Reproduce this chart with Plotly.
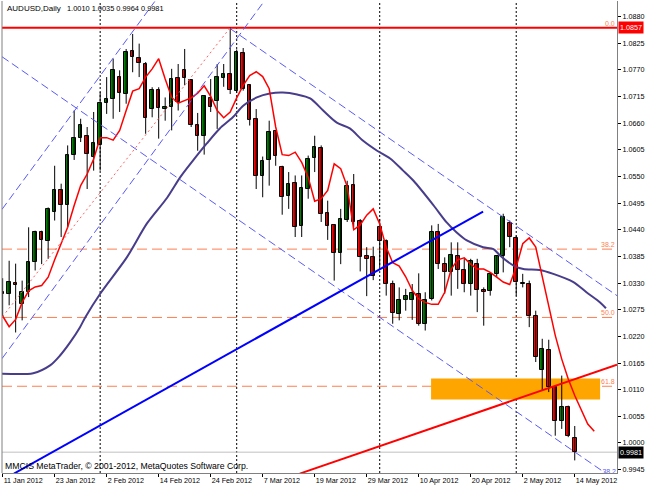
import plotly.graph_objects as go

# ---------------- data ----------------
dates = (["2012-01-%02d" % d for d in [11, 12, 13, 16, 17, 18, 19, 20, 23, 24, 25, 26, 27, 30, 31]] +
         ["2012-02-%02d" % d for d in [1, 2, 3, 6, 7, 8, 9, 10, 13, 14, 15, 16, 17, 20, 21, 22, 23, 24, 27, 28, 29]] +
         ["2012-03-%02d" % d for d in [1, 2, 5, 6, 7, 8, 9, 12, 13, 14, 15, 16, 19, 20, 21, 22, 23, 26, 27, 28, 29, 30]] +
         ["2012-04-%02d" % d for d in [2, 3, 4, 5, 6, 9, 10, 11, 12, 13, 16, 17, 18, 19, 20, 23, 24, 25, 26, 27, 30]] +
         ["2012-05-%02d" % d for d in [1, 2, 3, 4, 7, 8, 9, 10, 11, 14]])

open_ = [1.0311, 1.0308, 1.0330, 1.0287, 1.0311, 1.0373, 1.0435, 1.0416, 1.0476, 1.0522,
         1.0492, 1.0595, 1.0630, 1.0634, 1.0590, 1.0615, 1.0702, 1.0710, 1.0756, 1.0720,
         1.0808, 1.0795, 1.0782, 1.0689, 1.0729, 1.0689, 1.0694, 1.0753, 1.0770, 1.0750,
         1.0656, 1.0633, 1.0712, 1.0705, 1.0753, 1.0762, 1.0727, 1.0804, 1.0738, 1.0669,
         1.0550, 1.0583, 1.0643, 1.0570, 1.0509, 1.0537, 1.0447, 1.0524, 1.0588, 1.0609,
         1.0474, 1.0449, 1.0392, 1.0461, 1.0533, 1.0458, 1.0385, 1.0383, 1.0446, 1.0417,
         1.0327, 1.0266, 1.0295, 1.0294, 1.0308, 1.0246, 1.0297, 1.0435, 1.0369, 1.0352,
         1.0385, 1.0356, 1.0327, 1.0369, 1.0316, 1.0313, 1.0348, 1.0385, 1.0453, 1.0423,
         1.0330, 1.0328, 1.0261, 1.0151, 1.0192, 1.0115, 1.0046, 1.0075, 1.0010]
high = [1.0340, 1.0376, 1.0370, 1.0335, 1.0445, 1.0438, 1.0438, 1.0486, 1.0572, 1.0535,
        1.0614, 1.0686, 1.0669, 1.0652, 1.0683, 1.0724, 1.0755, 1.0793, 1.0769, 1.0813,
        1.0844, 1.0824, 1.0786, 1.0734, 1.0734, 1.0713, 1.0772, 1.0782, 1.0813, 1.0751,
        1.0681, 1.0717, 1.0751, 1.0782, 1.0782, 1.0857, 1.0812, 1.0815, 1.0740, 1.0689,
        1.0591, 1.0665, 1.0645, 1.0572, 1.0559, 1.0552, 1.0552, 1.0593, 1.0634, 1.0614,
        1.0500, 1.0450, 1.0483, 1.0541, 1.0555, 1.0462, 1.0404, 1.0405, 1.0462, 1.0420,
        1.0335, 1.0321, 1.0318, 1.0328, 1.0350, 1.0311, 1.0449, 1.0452, 1.0383, 1.0414,
        1.0414, 1.0380, 1.0380, 1.0380, 1.0321, 1.0352, 1.0387, 1.0473, 1.0459, 1.0428,
        1.0349, 1.0335, 1.0273, 1.0215, 1.0213, 1.0118, 1.0139, 1.0077, 1.0035]
low = [1.0262, 1.0284, 1.0228, 1.0253, 1.0301, 1.0356, 1.0369, 1.0380, 1.0459, 1.0425,
       1.0445, 1.0584, 1.0621, 1.0524, 1.0562, 1.0562, 1.0679, 1.0669, 1.0683, 1.0700,
       1.0765, 1.0755, 1.0638, 1.0672, 1.0628, 1.0665, 1.0645, 1.0686, 1.0738, 1.0652,
       1.0603, 1.0595, 1.0683, 1.0648, 1.0735, 1.0720, 1.0722, 1.0727, 1.0655, 1.0524,
       1.0507, 1.0531, 1.0572, 1.0471, 1.0483, 1.0425, 1.0425, 1.0504, 1.0559, 1.0456,
       1.0419, 1.0335, 1.0369, 1.0456, 1.0445, 1.0354, 1.0303, 1.0336, 1.0363, 1.0304,
       1.0246, 1.0253, 1.0273, 1.0254, 1.0242, 1.0232, 1.0294, 1.0359, 1.0308, 1.0304,
       1.0318, 1.0311, 1.0304, 1.0270, 1.0242, 1.0304, 1.0342, 1.0352, 1.0404, 1.0304,
       1.0321, 1.0239, 1.0167, 1.0108, 1.0105, 1.0015, 1.0029, 1.0012, 0.9964]
close = [1.0308, 1.0332, 1.0326, 1.0311, 1.0374, 1.0435, 1.0418, 1.0483, 1.0521, 1.0491,
         1.0595, 1.0630, 1.0656, 1.0597, 1.0619, 1.0701, 1.0710, 1.0769, 1.0722, 1.0806,
         1.0796, 1.0784, 1.0671, 1.0729, 1.0691, 1.0694, 1.0751, 1.0703, 1.0753, 1.0657,
         1.0634, 1.0715, 1.0694, 1.0756, 1.0762, 1.0729, 1.0806, 1.0731, 1.0667, 1.0550,
         1.0581, 1.0641, 1.0593, 1.0508, 1.0535, 1.0445, 1.0526, 1.0586, 1.0610, 1.0473,
         1.0447, 1.0392, 1.0462, 1.0531, 1.0456, 1.0383, 1.0380, 1.0345, 1.0416, 1.0328,
         1.0268, 1.0295, 1.0304, 1.0310, 1.0246, 1.0294, 1.0436, 1.0369, 1.0352, 1.0387,
         1.0356, 1.0327, 1.0375, 1.0316, 1.0311, 1.0349, 1.0385, 1.0466, 1.0426, 1.0332,
         1.0328, 1.0261, 1.0178, 1.0194, 1.0116, 1.0046, 1.0075, 1.0015, 0.9981]

# fast red moving average (drawn shifted, runs 3 bars past the last candle)
red_ma = [1.0262, 1.0240, 1.0255, 1.0290, 1.0314, 1.0322, 1.0325, 1.0342, 1.0378, 1.0411,
          1.0445, 1.0490, 1.0531, 1.0555, 1.0586, 1.0630, 1.0630, 1.0625, 1.0645, 1.0686,
          1.0726, 1.0731, 1.0755, 1.0772, 1.0793, 1.0751, 1.0713, 1.0701, 1.0707, 1.0712,
          1.0722, 1.0737, 1.0715, 1.0686, 1.0671, 1.0683, 1.0712, 1.0738, 1.0758, 1.0766,
          1.0756, 1.0731, 1.0652, 1.0595, 1.0593, 1.0600, 1.0579, 1.0548, 1.0499, 1.0504,
          1.0521, 1.0576, 1.0566, 1.0529, 1.0440, 1.0450, 1.0470, 1.0483, 1.0452, 1.0404,
          1.0372, 1.0365, 1.0343, 1.0315, 1.0297, 1.0290, 1.0286, 1.0286, 1.0311, 1.0359,
          1.0378, 1.0382, 1.0369, 1.0359, 1.0359, 1.0352, 1.0342, 1.0332, 1.0327, 1.0363,
          1.0411, 1.0423, 1.0404, 1.0342, 1.0280, 1.0222, 1.0173, 1.0132, 1.0098, 1.0067,
          1.0039, 1.0024]

# slow (dark slate blue) moving average, read at these bar positions
navy_x = [-0.1, 4.7, 7.3, 8.8, 10.4, 11.9, 12.7, 15.0, 19.1, 22.2, 25.3, 27.3, 29.3, 31.4,
          33.4, 35.4, 37.0, 39.1, 41.1, 43.1, 45.3, 47.3, 49.3, 51.4, 53.4, 55.4, 57.6,
          59.6, 61.6, 63.2, 66.3, 68.3, 69.8, 71.4, 73.9, 75.5, 76.5, 78.6, 80.1, 82.6,
          84.7, 87.8, 89.8, 91.9, 92.8]
navy_y = [1.0143, 1.0144, 1.0160, 1.0180, 1.0208, 1.0239, 1.0259, 1.0308, 1.0383, 1.0453,
          1.0506, 1.0548, 1.0583, 1.0618, 1.0649, 1.0672, 1.0696, 1.0713, 1.0721, 1.0723,
          1.0719, 1.0711, 1.0686, 1.0661, 1.0649, 1.0624, 1.0603, 1.0587, 1.0562, 1.0541,
          1.0490, 1.0455, 1.0435, 1.0418, 1.0404, 1.0400, 1.0387, 1.0366, 1.0359, 1.0357,
          1.0349, 1.0332, 1.0311, 1.0290, 1.0278]

x_tick_pos = [0, 8, 16, 24, 32, 40, 48, 56, 64, 72, 80, 88]
x_tick_labels = ["11 Jan 2012", "23 Jan 2012", "2 Feb 2012", "14 Feb 2012", "24 Feb 2012",
                 "7 Mar 2012", "19 Mar 2012", "29 Mar 2012", "10 Apr 2012", "20 Apr 2012",
                 "2 May 2012", "14 May 2012"]
y_ticks = [1.0880, 1.0825, 1.0770, 1.0715, 1.0660, 1.0605, 1.0550, 1.0495, 1.0440,
           1.0385, 1.0330, 1.0275, 1.0220, 1.0165, 1.0110, 1.0055, 1.0000, 0.9945]

month_starts = ["2012-02-01", "2012-03-01", "2012-04-02", "2012-05-01"]

fib_labels = ["0.0", "38.2", "50.0", "61.8"]
fib_prices = [1.0857, 1.0400, 1.0259, 1.0117]
high_line = 1.0857
bid_price = 0.9981

# trend / channel lines: (bar, price) anchor pairs
blue_trend = ([1.74, 73.9], [0.99368, 1.04775])
red_trend = ([45.7, 94.5], [0.99368, 1.01617])
fib_diag = ([0.0, 35.0], [1.0261, 1.0857])
rise_upper = ([-0.1, 23.4], [1.0482, 1.0911])
rise_lower = ([-0.1, 40.2], [1.0174, 1.0911])
fall_lower = ([-0.1, 92.8], [1.0797, 0.9937])
fall_upper = ([35.0, 94.5], [1.0855, 1.0304])
zone_x = [65.9, 91.9]
zone_y = [1.00895, 1.01328]

header_name = "AUDUSD,Daily"
header_vals = "1.0010 1.0035 0.9964 0.9981"
copyright_txt = "MMCIS MetaTrader, \u00a9 2001-2012, MetaQuotes Software Corp."

# ---------------- figure ----------------
FONT = "Liberation Sans, Arial, sans-serif"
n = len(close)
xs = list(range(n))

fig = go.Figure()

# wicks
wx, wy = [], []
for i in xs:
    wx += [i, i, None]
    wy += [low[i], high[i], None]
fig.add_trace(go.Scatter(x=wx, y=wy, mode="lines", line=dict(color="black", width=1),
                         hoverinfo="skip", showlegend=False))

# bodies
for up, col in [(True, "#008000"), (False, "#FF0000")]:
    bx, bb, bh = [], [], []
    for i in xs:
        if (close[i] >= open_[i]) == up:
            bx.append(i)
            bb.append(min(open_[i], close[i]))
            bh.append(max(abs(close[i] - open_[i]), 0.00005))
    fig.add_trace(go.Bar(x=bx, y=bh, base=bb, width=0.55, marker=dict(color=col, line=dict(color="black", width=1)),
                         showlegend=False, hoverinfo="skip"))

# moving averages
fig.add_trace(go.Scatter(x=navy_x, y=navy_y, mode="lines", line=dict(color="#483D8B", width=2, shape="spline", smoothing=0.8),
                         showlegend=False, hoverinfo="skip"))
fig.add_trace(go.Scatter(x=list(range(len(red_ma))), y=red_ma, mode="lines", line=dict(color="#FF0000", width=1.5),
                         showlegend=False, hoverinfo="skip"))

# channels / trend lines
for seg in [rise_upper, rise_lower, fall_lower, fall_upper]:
    fig.add_trace(go.Scatter(x=seg[0], y=seg[1], mode="lines", line=dict(color="#5A5AF5", width=1, dash="8px,4px"),
                             showlegend=False, hoverinfo="skip"))
fig.add_trace(go.Scatter(x=fib_diag[0], y=fib_diag[1], mode="lines", line=dict(color="#FF6060", width=1, dash="2px,3px"),
                         showlegend=False, hoverinfo="skip"))
fig.add_trace(go.Scatter(x=blue_trend[0], y=blue_trend[1], mode="lines", line=dict(color="#0000FF", width=2),
                         showlegend=False, hoverinfo="skip"))
fig.add_trace(go.Scatter(x=red_trend[0], y=red_trend[1], mode="lines", line=dict(color="#FF0000", width=2),
                         showlegend=False, hoverinfo="skip"))
# partly hidden channel label at bottom right
fig.add_trace(go.Scatter(x=[93.3], y=[0.9939], mode="text", text=["38.2"], cliponaxis=True,
                         textfont=dict(color="#5A5AF5", size=7, family=FONT), showlegend=False, hoverinfo="skip"))

shapes = []
shapes.append(dict(type="rect", xref="x", yref="y", x0=zone_x[0], x1=zone_x[1], y0=zone_y[0], y1=zone_y[1],
                   fillcolor="#FFA500", line=dict(width=0), layer="below"))
for d in month_starts:
    k = dates.index(d)
    shapes.append(dict(type="line", xref="x", yref="paper", x0=k, x1=k, y0=0, y1=1,
                       line=dict(color="black", width=1, dash="2px,2px"), layer="below"))
for lab, p in zip(fib_labels[1:], fib_prices[1:]):
    shapes.append(dict(type="line", xref="paper", yref="y", x0=0, x1=1, y0=p, y1=p,
                       line=dict(color="#FF7F50", width=1, dash="10px,5px"), layer="below"))
shapes.append(dict(type="line", xref="paper", yref="y", x0=0, x1=1, y0=high_line, y1=high_line,
                   line=dict(color="#FF0000", width=2), layer="below"))
shapes.append(dict(type="line", xref="paper", yref="y", x0=0, x1=1, y0=bid_price, y1=bid_price,
                   line=dict(color="#C0C0C0", width=1), layer="below"))
shapes.append(dict(type="line", xref="paper", yref="paper", x0=0, x1=0, y0=0, y1=1,
                   line=dict(color="#808080", width=1)))

ann = []
for lab, p in zip(fib_labels, fib_prices):
    ann.append(dict(xref="paper", yref="y", x=0.9984, y=p, xanchor="right", yanchor="bottom", text=lab,
                    showarrow=False, font=dict(family=FONT, size=7, color="#FF7F50"), borderpad=0))
ann.append(dict(xref="paper", yref="y", x=1.0016, y=high_line, xanchor="left", yanchor="middle",
                text="%.4f" % high_line, showarrow=False, bgcolor="#FF0000",
                font=dict(family=FONT, size=7.2, color="white"), borderpad=1))
ann.append(dict(xref="paper", yref="y", x=1.0016, y=bid_price, xanchor="left", yanchor="middle",
                text="%.4f" % bid_price, showarrow=False, bgcolor="#000000",
                font=dict(family=FONT, size=7.2, color="white"), borderpad=1))
ann.append(dict(xref="paper", yref="paper", x=0.005, y=0.985, xanchor="left", yanchor="middle",
                text=header_name, showarrow=False, font=dict(family=FONT, size=8, color="black")))
ann.append(dict(xref="paper", yref="paper", x=0.102, y=0.985, xanchor="left", yanchor="middle",
                text=header_vals, showarrow=False, font=dict(family=FONT, size=7.4, color="black")))
ann.append(dict(xref="paper", yref="paper", x=0.0016, y=0.0148, xanchor="left", yanchor="middle",
                text=copyright_txt, showarrow=False, font=dict(family=FONT, size=8.7, color="black")))

fig.update_layout(
    width=650, height=488,
    margin=dict(l=2, r=33, t=1, b=15),
    paper_bgcolor="white", plot_bgcolor="white",
    barmode="overlay", bargap=0,
    showlegend=False,
    shapes=shapes, annotations=ann,
    font=dict(family=FONT, size=7.2, color="black"),
    xaxis=dict(range=[-0.1, 94.5], showgrid=False, zeroline=False, showline=True, linecolor="#808080",
               linewidth=1, ticks="outside", ticklen=3, tickcolor="black", tickvals=x_tick_pos,
               ticktext=x_tick_labels, ticklabelposition="outside right",
               tickfont=dict(family=FONT, size=7.2, color="black")),
    yaxis=dict(range=[0.99380, 1.09120], side="right", showgrid=False, zeroline=False, showline=True,
               linecolor="#808080", linewidth=1, ticks="outside", ticklen=3, tickcolor="black",
               tickvals=y_ticks, ticktext=["%.4f" % v for v in y_ticks],
               tickfont=dict(family=FONT, size=7.2, color="black")),
)

fig.write_html("out.html", config={"displayModeBar": False},
               post_script="document.body.style.margin='0';document.body.style.padding='0';")
